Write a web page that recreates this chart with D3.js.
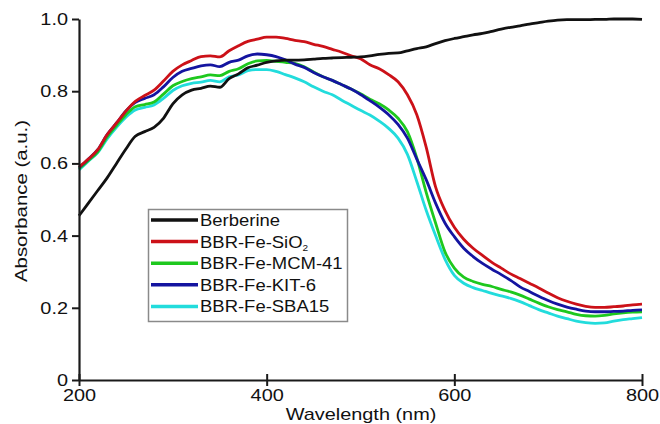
<!DOCTYPE html>
<html>
<head>
<meta charset="utf-8">
<script src="https://cdn.jsdelivr.net/npm/d3@7"></script>
<style>
  html, body { margin: 0; padding: 0; background: #fff; }
  svg { display: block; font-family: "Liberation Sans", Arial, Helvetica, sans-serif; }
</style>
</head>
<body>
<svg id="chart" width="660" height="424"></svg>
<script>
const wavelengths = d3.range(200, 801, 10);

const berberine = [0.455,0.490,0.525,0.560,0.600,0.640,0.675,0.688,0.700,0.725,
  0.765,0.790,0.803,0.808,0.814,0.811,0.835,0.848,0.865,0.872,
  0.880,0.884,0.886,0.886,0.887,0.889,0.891,0.892,0.893,0.894,
  0.895,0.898,0.902,0.905,0.906,0.912,0.918,0.923,0.932,0.940,
  0.946,0.951,0.956,0.960,0.966,0.972,0.977,0.981,0.986,0.990,
  0.994,0.997,0.998,0.998,0.998,0.999,0.999,1.000,1.000,1.000,0.999];

const sio2 = [0.590,0.612,0.638,0.680,0.712,0.745,0.772,0.788,0.803,0.828,
  0.855,0.873,0.885,0.896,0.898,0.895,0.912,0.926,0.938,0.944,
  0.950,0.950,0.946,0.941,0.937,0.930,0.924,0.916,0.908,0.898,
  0.890,0.873,0.862,0.846,0.826,0.790,0.735,0.645,0.535,0.470,
  0.423,0.390,0.365,0.345,0.326,0.310,0.294,0.281,0.268,0.255,
  0.241,0.228,0.218,0.210,0.204,0.201,0.201,0.203,0.205,0.208,0.210];

const mcm41 = [0.585,0.608,0.632,0.673,0.705,0.735,0.757,0.763,0.770,0.792,
  0.815,0.827,0.835,0.840,0.845,0.843,0.855,0.862,0.876,0.884,
  0.885,0.883,0.880,0.877,0.868,0.853,0.840,0.830,0.818,0.806,
  0.793,0.778,0.765,0.748,0.725,0.688,0.615,0.520,0.435,0.355,
  0.310,0.285,0.273,0.265,0.259,0.251,0.244,0.235,0.224,0.213,
  0.203,0.195,0.189,0.182,0.178,0.177,0.179,0.183,0.186,0.188,0.189];

const kit6 = [0.588,0.612,0.638,0.680,0.712,0.745,0.769,0.780,0.790,0.812,
  0.838,0.855,0.863,0.870,0.873,0.868,0.880,0.886,0.898,0.903,
  0.901,0.896,0.887,0.875,0.866,0.852,0.840,0.830,0.818,0.806,
  0.791,0.774,0.756,0.735,0.708,0.670,0.612,0.555,0.490,0.435,
  0.397,0.365,0.342,0.323,0.307,0.292,0.276,0.258,0.245,0.232,
  0.220,0.210,0.202,0.196,0.191,0.189,0.189,0.190,0.191,0.193,0.194];

const sba15 = [0.582,0.606,0.630,0.668,0.700,0.728,0.748,0.755,0.762,0.780,
  0.802,0.815,0.822,0.825,0.830,0.826,0.840,0.845,0.857,0.860,
  0.860,0.855,0.846,0.837,0.826,0.812,0.800,0.790,0.775,0.761,
  0.747,0.734,0.717,0.697,0.670,0.625,0.550,0.470,0.400,0.335,
  0.290,0.268,0.256,0.248,0.240,0.233,0.226,0.217,0.206,0.195,
  0.186,0.177,0.170,0.163,0.159,0.157,0.158,0.163,0.167,0.170,0.173];

const xTicks = [200, 400, 600, 800];
const yTicks = [0, 0.2, 0.4, 0.6, 0.8, 1.0];
const yTickLabels = ["0", "0.2", "0.4", "0.6", "0.8", "1.0"];

const series = [
  { name: "Berberine", values: berberine, color: "#111111" },
  { name: "BBR-Fe-SiO2", values: sio2, color: "#cc1118" },
  { name: "BBR-Fe-MCM-41", values: mcm41, color: "#1ec81e" },
  { name: "BBR-Fe-KIT-6", values: kit6, color: "#1414a0" },
  { name: "BBR-Fe-SBA15", values: sba15, color: "#22dcdc" }
];

const SX = 1.17; // horizontal stretch of the reference lettering

const svg = d3.select("#chart");
const x = d3.scaleLinear().domain([200, 800]).range([79, 642]);
const y = d3.scaleLinear().domain([0, 1]).range([380, 19]);

const line = d3.line()
  .x((d, i) => x(wavelengths[i]))
  .y(d => y(d))
  .curve(d3.curveMonotoneX);

const drawOrder = [4, 2, 3, 1, 0];
drawOrder.forEach(i => {
  const s = series[i];
  svg.append("path")
    .datum(s.values)
    .attr("fill", "none")
    .attr("stroke", s.color)
    .attr("stroke-width", 2.8)
    .attr("stroke-linejoin", "round")
    .attr("d", line);
});

// axes
const yAxis = d3.axisLeft(y)
  .tickValues(yTicks)
  .tickFormat((d, i) => yTickLabels[i])
  .tickSize(7)
  .tickSizeOuter(0)
  .tickPadding(4);
const gy = svg.append("g").attr("transform", `translate(${x(200)},0)`).call(yAxis);
gy.select(".domain").attr("stroke", "#1a1a1a").attr("stroke-width", 2.2);
gy.selectAll(".tick line").attr("stroke", "#1a1a1a").attr("stroke-width", 2);
gy.selectAll(".tick text")
  .attr("font-size", 17).attr("fill", "#111")
  .attr("font-family", "'Liberation Sans', Arial, sans-serif")
  .attr("x", -11 / SX)
  .attr("transform", `scale(${SX},1)`);

const xAxis = d3.axisBottom(x)
  .tickValues(xTicks)
  .tickFormat(d3.format("d"))
  .tickSize(6)
  .tickSizeOuter(0)
  .tickPadding(3);
const gx = svg.append("g").attr("transform", `translate(0,${y(0)})`).call(xAxis);
gx.select(".domain").attr("stroke", "#1a1a1a").attr("stroke-width", 2.2);
gx.selectAll(".tick line").attr("y1", -6).attr("stroke", "#1a1a1a").attr("stroke-width", 2);
gx.selectAll(".tick text")
  .attr("font-size", 17).attr("fill", "#111")
  .attr("font-family", "'Liberation Sans', Arial, sans-serif")
  .attr("transform", `scale(${SX},1)`);

// axis titles
svg.append("g")
  .attr("transform", `translate(361,420) scale(${SX},1)`)
  .append("text")
  .attr("text-anchor", "middle")
  .attr("font-size", 17).attr("fill", "#111")
  .text("Wavelength (nm)");

svg.append("g")
  .attr("transform", `translate(27,201) rotate(-90) scale(1.2,1)`)
  .append("text")
  .attr("text-anchor", "middle")
  .attr("font-size", 17).attr("fill", "#111")
  .text("Absorbance (a.u.)");

// legend
const lg = svg.append("g");
lg.append("rect")
  .attr("x", 148.5).attr("y", 209.5)
  .attr("width", 199).attr("height", 112)
  .attr("fill", "#fff")
  .attr("stroke", "#8a8a8a").attr("stroke-width", 1.5);

series.forEach((s, i) => {
  const yy = 220 + i * 21.6;
  lg.append("line")
    .attr("x1", 151).attr("x2", 198)
    .attr("y1", yy).attr("y2", yy)
    .attr("stroke", s.color).attr("stroke-width", 3.5);
  const t = lg.append("g")
    .attr("transform", `translate(200,${yy + 6}) scale(1.12,1)`)
    .append("text")
    .attr("font-size", 16.5).attr("fill", "#111");
  if (s.name === "BBR-Fe-SiO2") {
    t.append("tspan").text("BBR-Fe-SiO");
    t.append("tspan").attr("font-size", 9).attr("dy", 3).text("2");
  } else {
    t.text(s.name);
  }
});
</script>
</body>
</html>
